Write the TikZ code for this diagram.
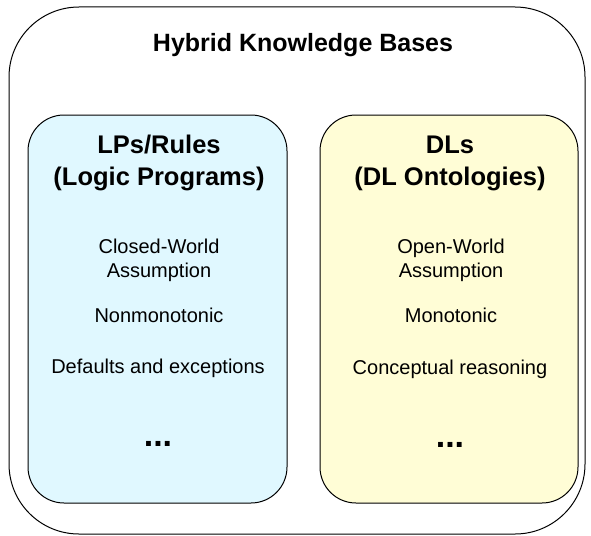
\documentclass[tikz,border=0pt]{standalone}
\usepackage{fontspec}
\setmainfont{Liberation Sans}
\usetikzlibrary{positioning}

\definecolor{lpfill}{HTML}{E0F8FF}
\definecolor{dlfill}{HTML}{FFFDD6}

\begin{document}
\begin{tikzpicture}[x=1pt,y=-1pt,
    box/.style={draw,line width=1pt,rounded corners=36pt,inner sep=0pt},
    head/.style={anchor=base,align=center,font=\fontsize{25.5}{32}\selectfont\bfseries},
    item/.style={anchor=base,align=center,font=\fontsize{20}{24}\selectfont},
    more/.style={anchor=base,font=\fontsize{34}{34}\selectfont\bfseries}]
    \useasboundingbox (0,0) rectangle (591,535);
    % outer frame and title
    \node[box,rounded corners=70pt,minimum width=576pt,minimum height=527pt](hkb)at(297,270.5){};
    \node[anchor=base,font=\fontsize{25}{28}\selectfont\bfseries](title)at(303,52){Hybrid Knowledge Bases};
    % rules side (base = last line)
    \node[box,fill=lpfill,minimum width=259pt,minimum height=388pt](lp)at(157.5,309){};
    \node[head](lphead)at(159,185){LPs/Rules\\(Logic Programs)};
    \node[item](cwa)at(159,277){Closed-World\\Assumption};
    \node[item](nonmono)at(159,322){Nonmonotonic};
    \node[item](defaults)at(158,373){Defaults and exceptions};
    \node[more](lpmore)at(158,446){...};
    % ontology side
    \node[box,fill=dlfill,minimum width=258pt,minimum height=388pt](dl)at(449,309){};
    \node[head](dlhead)at(450,185){DLs\\(DL Ontologies)};
    \node[item](owa)at(451,277){Open-World\\Assumption};
    \node[item](mono)at(451,322){Monotonic};
    \node[item](concept)at(450,374){Conceptual reasoning};
    \node[more](dlmore)at(450,447){...};
\end{tikzpicture}
\end{document}
